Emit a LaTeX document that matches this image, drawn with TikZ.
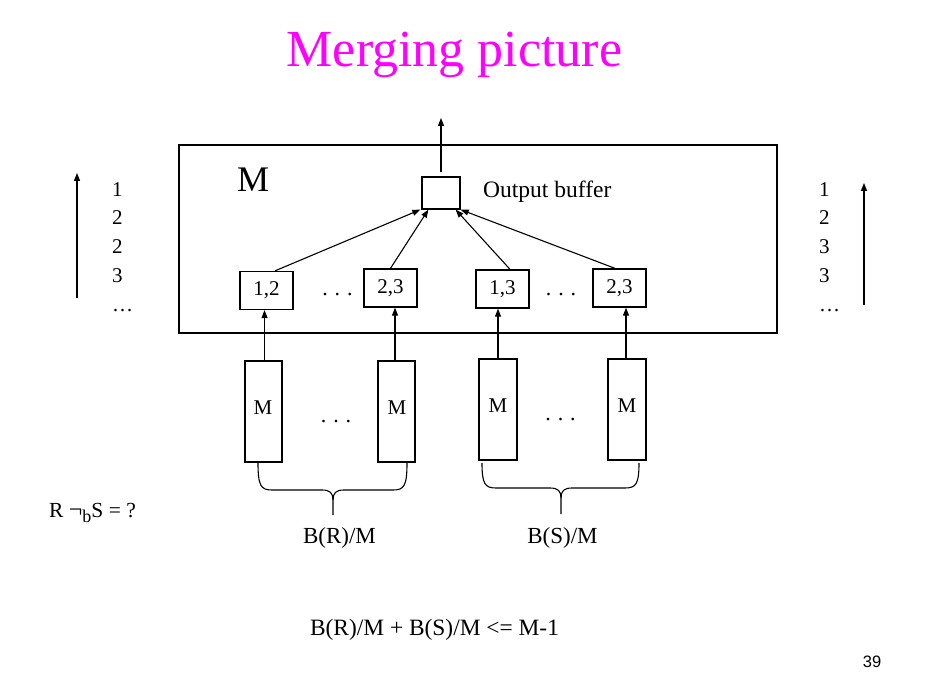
\documentclass[tikz,border=0pt]{standalone}
\usepackage{fontspec}
\setmainfont{Liberation Serif}
\newfontfamily\numfont{Liberation Sans}
\usetikzlibrary{arrows.meta,calc}
\definecolor{titlemag}{RGB}{255,0,255}
\tikzset{
  box/.style={draw, line width=1.3pt, inner sep=0pt, font=\fontsize{21}{24}\selectfont},
  conn/.style={line width=1.1pt, -{Triangle[length=8pt,width=6pt]}},
  txt/.style={inner sep=0pt, anchor=base, font=\fontsize{22}{26}\selectfont},
  brace/.style={line width=1.1pt},
}
\begin{document}
\begin{tikzpicture}[x=1pt,y=-1pt]
\useasboundingbox (0,0) rectangle (929,695);
% title
\node[txt, font=\fontsize{52}{60}\selectfont, text=titlemag] (title) at (454.5,66.7) {Merging picture};
% memory box
\node[box, minimum width=598pt, minimum height=188pt] (mem) at (478,239) {};
\node[txt, anchor=base west, font=\fontsize{36}{40}\selectfont] (mlabel) at (237,192) {M};
% output buffer
\node[box, minimum width=38pt, minimum height=32pt] (out) at (441,193) {};
\node[txt, anchor=base west, font=\fontsize{23.5}{28}\selectfont] (outlbl) at (483,198) {Output buffer};
\coordinate (outtop) at (441,118);
\draw[conn] ($(out.north)+(0,-4)$) -- (outtop);
% small buffers
\node[box, minimum width=53pt, minimum height=38pt] (b1) at (266.5,290.5) {1,2};
\node[box, minimum width=53pt, minimum height=38pt] (b2) at (390.5,288) {2,3};
\node[box, minimum width=53pt, minimum height=38pt] (b3) at (502.5,289) {1,3};
\node[box, minimum width=53pt, minimum height=38pt] (b4) at (619.5,288) {2,3};
\node[txt] (d1) at (337.5,295) {.\hspace{7pt}.\hspace{7pt}.};
\node[txt] (d2) at (561,295) {.\hspace{7pt}.\hspace{7pt}.};
% arrows to output buffer
\draw[conn] ($(b1.north)+(8.5,0)$) -- ($(out.south west)+(-1,0)$);
\draw[conn] (b2.north) -- ($(out.south west)+(7,0)$);
\draw[conn] ($(b3.north)+(7.5,0)$) -- ($(out.south east)+(-5,0)$);
\draw[conn] ($(b4.north)+(-4.5,0)$) -- (out.south east);
% tall runs
\node[box, minimum width=37pt, minimum height=101pt] (ra) at (263.5,411.5) {};
\node[box, minimum width=37pt, minimum height=101pt] (rb) at (396.5,411.5) {};
\node[box, minimum width=38pt, minimum height=101pt] (sa) at (498,409.5) {};
\node[box, minimum width=38pt, minimum height=101pt] (sb) at (627,409.5) {};
\node[txt, font=\fontsize{21}{24}\selectfont] (ram) at (263,414) {M};
\node[txt, font=\fontsize{21}{24}\selectfont] (rbm) at (397,414) {M};
\node[txt, font=\fontsize{21}{24}\selectfont] (sam) at (498,412) {M};
\node[txt, font=\fontsize{21}{24}\selectfont] (sbm) at (627,412) {M};
\node[txt] (d3) at (336,422) {.\hspace{7pt}.\hspace{7pt}.};
\node[txt] (d4) at (560.5,420) {.\hspace{7pt}.\hspace{7pt}.};
\draw[conn] ($(ra.north)+(1,0)$) -- ($(ra.north |- b1.south)+(1,0)$);
\draw[conn] ($(rb.north)+(-1.5,0)$) -- ($(rb.north |- b2.south)+(-1.5,0)$);
\draw[conn] (sa.north) -- (sa.north |- b3.south);
\draw[conn] ($(sb.north)+(-1,0)$) -- ($(sb.north |- b4.south)+(-1,0)$);
% braces
\draw[brace] (258,463) .. controls (258,486) and (261,490) .. (272,490) -- (322,490)
  .. controls (330,490) and (333,493) .. (333,500) -- (333,515);
\draw[brace] (407,463) .. controls (407,486) and (404,490) .. (393,490) -- (344,490)
  .. controls (336,490) and (333,493) .. (333,500);
\draw[brace] (482,463) .. controls (482,484) and (485,488) .. (496,488) -- (550,488)
  .. controls (558,488) and (561,491) .. (561,498) -- (561,514);
\draw[brace] (639,463) .. controls (639,484) and (636,488) .. (625,488) -- (572,488)
  .. controls (564,488) and (561,491) .. (561,498);
\node[txt, font=\fontsize{23}{27}\selectfont] (br) at (339.5,543) {B(R)/M};
\node[txt, font=\fontsize{23}{27}\selectfont] (bs) at (562.5,543) {B(S)/M};
% side columns
\coordinate (la0) at (77,298);
\coordinate (la1) at (77,173);
\draw[conn] (la0) -- (la1);
\coordinate (ra0) at (864,305);
\coordinate (ra1) at (864,183);
\draw[conn] (ra0) -- (ra1);
\begin{scope}[every node/.style={txt, anchor=base west, font=\fontsize{21}{24}\selectfont}]
\node (l1) at (112,197) {1};
\node (l2) at (112,225) {2};
\node (l3) at (112,254) {2};
\node (l4) at (112,282) {3};
\node (l5) at (112,311) {…};
\node (r1) at (819,197) {1};
\node (r2) at (819,225) {2};
\node (r3) at (819,254) {3};
\node (r4) at (819,282) {3};
\node (r5) at (819,311) {…};
\end{scope}
% join question
\node[txt, anchor=base west, font=\fontsize{21.5}{25}\selectfont] (join) at (49,517)
  {R {\fontsize{24}{26}\selectfont ¬}\raisebox{-5pt}{\fontsize{18}{18}\selectfont b}S = ?};
% constraint
\node[txt, font=\fontsize{23.4}{28}\selectfont] (cons) at (434.5,635) {B(R)/M + B(S)/M <= M-1};
% page number
\node[txt, font=\numfont\fontsize{16.5}{20}\selectfont] (pg) at (872,667) {39};
\end{tikzpicture}
\end{document}
